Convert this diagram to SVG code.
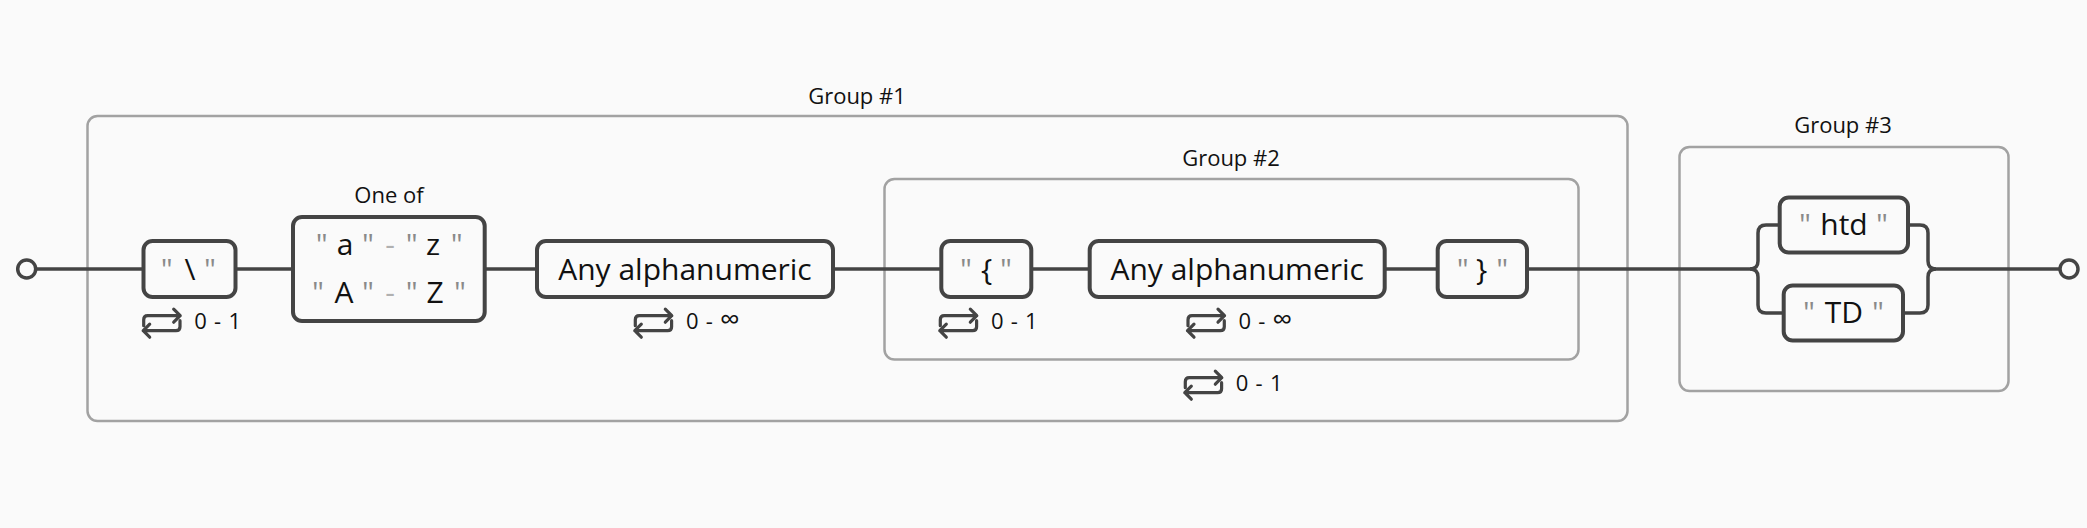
<svg xmlns="http://www.w3.org/2000/svg" xmlns:xlink="http://www.w3.org/1999/xlink" width="2087" height="528" viewBox="0 0 2087 528">
<style>
.t{font-family:"Open Sans","Noto Sans","Liberation Sans",sans-serif;fill:#111;}
.big{font-size:30px;}
.lbl{font-size:22px;text-anchor:middle;}
.cnt{font-size:22px;word-spacing:1.5px;}
.inf{font-size:28px;}
.q{fill:#8a8a8a;}
.d{fill:#b0b0b0;}
.mid{text-anchor:middle;}
.box{fill:#fafafa;stroke:#444;stroke-width:4;}
.grp{fill:none;stroke:#a2a2a2;stroke-width:2.5;}
.wire{fill:none;stroke:#444;stroke-width:3.5;}
.term{fill:#fafafa;stroke:#444;stroke-width:3.5;}
</style>
<defs>
<g id="rep" fill="none" stroke="#444" stroke-width="3.2" stroke-linecap="round" stroke-linejoin="round">
<path d="M2 18 V12 Q2 8 6 8 H38.5 M32 1.5 L38.5 8 L32 14.5"/>
<path d="M38.3 13 V19 Q38.3 23 34.3 23 H1.5 M8 16.5 L1.5 23 L8 29.5"/>
</g>
</defs>
<rect x="0" y="0" width="2087" height="528" fill="#fafafa"/>

<g id="group1">
<rect class="grp" x="87.5" y="116" width="1540" height="305" rx="10"/>
<text class="t lbl" x="857" y="104">Group #1</text>
</g>
<g id="group2">
<rect class="grp" x="884.5" y="179" width="694" height="180.5" rx="10"/>
<text class="t lbl" x="1231" y="166">Group #2</text>
<use xlink:href="#rep" href="#rep" x="1183.3" y="369.7"/>
<text class="t cnt" x="1235.8" y="390.5">0 - 1</text>
</g>
<g id="group3">
<rect class="grp" x="1679.5" y="147" width="329" height="244" rx="10"/>
<text class="t lbl" x="1843" y="133">Group #3</text>
</g>

<g id="connectors">
<line class="wire" x1="36" y1="269" x2="143.5" y2="269"/>
<line class="wire" x1="235.5" y1="269" x2="293" y2="269"/>
<line class="wire" x1="484.7" y1="269" x2="537" y2="269"/>
<line class="wire" x1="833" y1="269" x2="941.3" y2="269"/>
<line class="wire" x1="1031.3" y1="269" x2="1089.7" y2="269"/>
<line class="wire" x1="1384.7" y1="269" x2="1437.7" y2="269"/>
<line class="wire" x1="1527" y1="269" x2="1750" y2="269"/>
<path class="wire" d="M1779.7 225 H1766 Q1758 225 1758 233 V261 Q1758 269 1750 269"/>
<path class="wire" d="M1783.7 313 H1766 Q1758 313 1758 305 V277 Q1758 269 1750 269"/>
<path class="wire" d="M1908 225 H1920 Q1928 225 1928 233 V261 Q1928 269 1936 269"/>
<path class="wire" d="M1903 313 H1920 Q1928 313 1928 305 V277 Q1928 269 1936 269"/>
<line class="wire" x1="1936" y1="269" x2="2060" y2="269"/>
</g>

<g id="start"><circle class="term" cx="26.7" cy="269" r="9"/></g>
<g id="end"><circle class="term" cx="2069" cy="269" r="9"/></g>

<g id="node-backslash">
<rect class="box" x="143.5" y="241" width="92" height="56" rx="9"/>
<text class="t big mid" y="280"><tspan class="q" x="166.7">"</tspan><tspan x="190">\</tspan><tspan class="q" x="210">"</tspan></text>
<use xlink:href="#rep" href="#rep" x="141.7" y="307.7"/>
<text class="t cnt" x="194.3" y="328.5">0 - 1</text>
</g>

<g id="node-oneof">
<text class="t lbl" x="389" y="203">One of</text>
<rect class="box" x="293" y="217" width="191.7" height="104" rx="9"/>
<text class="t big mid" y="255"><tspan class="q" x="321.7">"</tspan><tspan x="345">a</tspan><tspan class="q" x="368">"</tspan><tspan class="d" x="390">-</tspan><tspan class="q" x="411.7">"</tspan><tspan x="433">z</tspan><tspan class="q" x="456.7">"</tspan></text>
<text class="t big mid" y="302.7"><tspan class="q" x="318">"</tspan><tspan x="344">A</tspan><tspan class="q" x="368">"</tspan><tspan class="d" x="390">-</tspan><tspan class="q" x="411.7">"</tspan><tspan x="435">Z</tspan><tspan class="q" x="460">"</tspan></text>
</g>

<g id="node-any1">
<rect class="box" x="537" y="241" width="296" height="56" rx="9"/>
<text class="t big mid" x="685" y="280">Any alphanumeric</text>
<use xlink:href="#rep" href="#rep" x="633.3" y="307.7"/>
<text class="t cnt" x="686" y="328.5">0 - <tspan class="inf">∞</tspan></text>
</g>

<g id="node-lbrace">
<rect class="box" x="941.3" y="241" width="90" height="56" rx="9"/>
<text class="t big mid" y="280"><tspan class="q" x="966">"</tspan><tspan x="986.7">{</tspan><tspan class="q" x="1006">"</tspan></text>
<use xlink:href="#rep" href="#rep" x="938.3" y="307.7"/>
<text class="t cnt" x="991" y="328.5">0 - 1</text>
</g>

<g id="node-any2">
<rect class="box" x="1089.7" y="241" width="295" height="56" rx="9"/>
<text class="t big mid" x="1237.2" y="280">Any alphanumeric</text>
<use xlink:href="#rep" href="#rep" x="1186" y="307.7"/>
<text class="t cnt" x="1238.5" y="328.5">0 - <tspan class="inf">∞</tspan></text>
</g>

<g id="node-rbrace">
<rect class="box" x="1437.7" y="241" width="89.3" height="56" rx="9"/>
<text class="t big mid" y="280"><tspan class="q" x="1462.7">"</tspan><tspan x="1481.7">}</tspan><tspan class="q" x="1502.3">"</tspan></text>
</g>

<g id="node-htd">
<rect class="box" x="1779.7" y="197.5" width="128.3" height="55" rx="9"/>
<text class="t big mid" y="235"><tspan class="q" x="1805">"</tspan><tspan x="1844">htd</tspan><tspan class="q" x="1882">"</tspan></text>
</g>

<g id="node-td">
<rect class="box" x="1783.7" y="285.5" width="119.3" height="55" rx="9"/>
<text class="t big mid" y="323"><tspan class="q" x="1809">"</tspan><tspan x="1844">TD</tspan><tspan class="q" x="1878">"</tspan></text>
</g>
</svg>
